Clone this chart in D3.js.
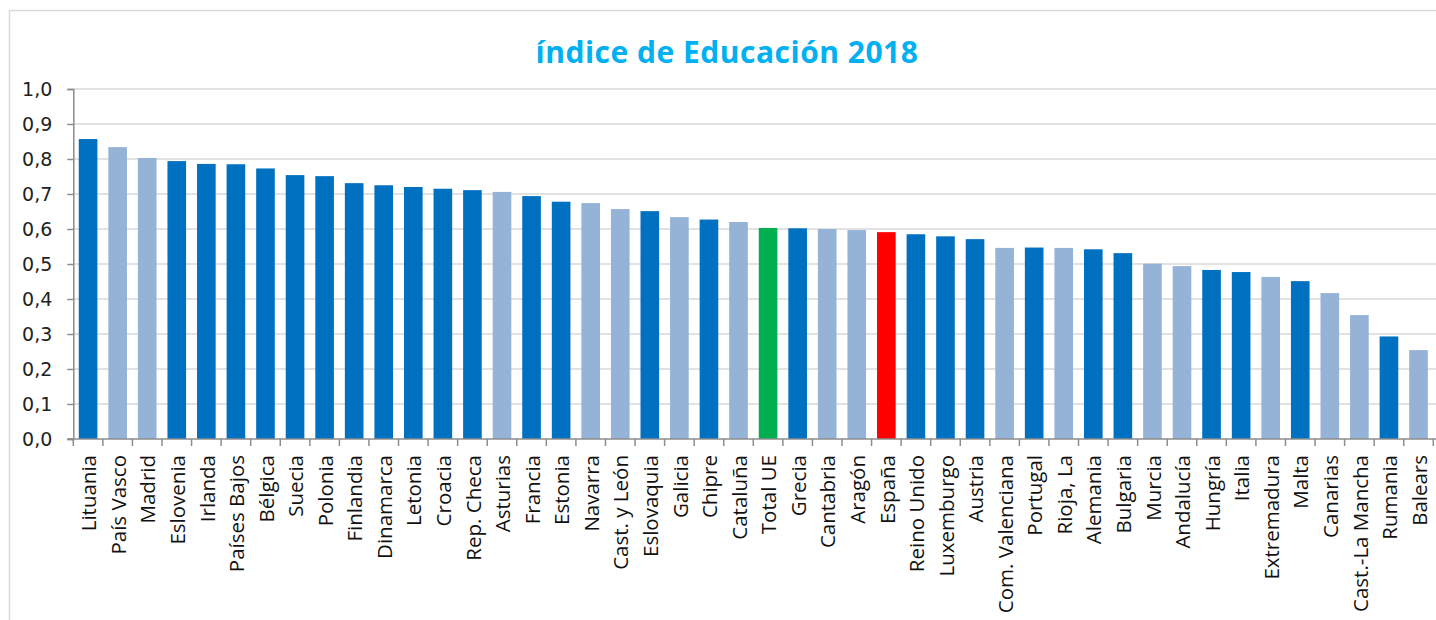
<!DOCTYPE html>
<html>
<head>
<meta charset="utf-8">
<script src="https://cdn.jsdelivr.net/npm/d3@7"></script>
<style>
  body { margin: 0; background: #fff; }
  svg { display: block; }
</style>
</head>
<body>
<div id="chart"></div>
<script>
const categories = [
  "Lituania", "País Vasco", "Madrid", "Eslovenia", "Irlanda", "Países Bajos",
  "Bélgica", "Suecia", "Polonia", "Finlandia", "Dinamarca", "Letonia",
  "Croacia", "Rep. Checa", "Asturias", "Francia", "Estonia", "Navarra",
  "Cast. y León", "Eslovaquia", "Galicia", "Chipre", "Cataluña", "Total UE",
  "Grecia", "Cantabria", "Aragón", "España", "Reino Unido", "Luxemburgo",
  "Austria", "Com. Valenciana", "Portugal", "Rioja, La", "Alemania", "Bulgaria",
  "Murcia", "Andalucía", "Hungría", "Italia", "Extremadura", "Malta",
  "Canarias", "Cast.-La Mancha", "Rumania", "Balears"
];

const values = [
  0.857, 0.834, 0.803, 0.794, 0.786, 0.785,
  0.773, 0.754, 0.751, 0.731, 0.725, 0.720,
  0.715, 0.711, 0.706, 0.694, 0.678, 0.674,
  0.657, 0.651, 0.634, 0.627, 0.620, 0.603,
  0.602, 0.600, 0.597, 0.591, 0.585, 0.579,
  0.571, 0.546, 0.547, 0.546, 0.542, 0.531,
  0.501, 0.494, 0.483, 0.477, 0.463, 0.451,
  0.417, 0.354, 0.293, 0.254
];

// p = país, r = región española, ue = Total UE, es = España
const groups = [
  "p", "r", "r", "p", "p", "p",
  "p", "p", "p", "p", "p", "p",
  "p", "p", "r", "p", "p", "r",
  "r", "p", "r", "p", "r", "ue",
  "p", "r", "r", "es", "p", "p",
  "p", "r", "p", "r", "p", "p",
  "r", "r", "p", "p", "r", "p",
  "r", "r", "p", "r"
];

const yTicks = [0, 0.1, 0.2, 0.3, 0.4, 0.5, 0.6, 0.7, 0.8, 0.9, 1.0];

const title = "índice de Educación 2018";

const colors = { p: "#0070C0", r: "#95B3D7", ue: "#00B050", es: "#FF0000" };

const data = categories.map((c, i) => ({ name: c, value: values[i], group: groups[i] }));

const width = 1436;
const height = 620;
const plot = { left: 73.3, right: 1433.3, top: 89, bottom: 439 };

const svg = d3.select("#chart")
  .append("svg")
  .attr("width", width)
  .attr("height", height);

// outer chart frame
svg.append("rect")
  .attr("x", 9.5)
  .attr("y", 10.5)
  .attr("width", width)
  .attr("height", height)
  .attr("fill", "none")
  .attr("stroke", "#d9d9d9")
  .attr("stroke-width", 1.5);

svg.append("text")
  .attr("x", 727)
  .attr("y", 63)
  .attr("text-anchor", "middle")
  .style("font-family", "'Open Sans', Lato, sans-serif")
  .style("font-weight", "bold")
  .style("font-size", "30px")
  .style("letter-spacing", "0.5px")
  .attr("fill", "#00B0F0")
  .text(title);

const x = d3.scaleBand()
  .domain(categories)
  .range([plot.left, plot.right])
  .paddingInner(0.37)
  .paddingOuter(0.185);

const y = d3.scaleLinear()
  .domain([0, 1])
  .range([plot.bottom, plot.top]);

const locale = d3.formatLocale({ decimal: ",", thousands: ".", grouping: [3], currency: ["", "€"] });
const fmt = locale.format(".1f");

// gridlines
svg.append("g")
  .selectAll("line")
  .data(yTicks.filter(d => d > 0))
  .join("line")
  .attr("x1", plot.left)
  .attr("x2", width)
  .attr("y1", d => y(d))
  .attr("y2", d => y(d))
  .attr("stroke", "#d9d9d9")
  .attr("stroke-width", 1.5);

// bars
svg.append("g")
  .selectAll("rect")
  .data(data)
  .join("rect")
  .attr("x", d => x(d.name))
  .attr("y", d => y(d.value))
  .attr("width", x.bandwidth())
  .attr("height", d => y(0) - y(d.value))
  .attr("fill", d => colors[d.group]);

// y axis
const yAxis = svg.append("g")
  .attr("transform", `translate(${plot.left},0)`)
  .call(d3.axisLeft(y).tickValues(yTicks).tickFormat(fmt).tickSize(6).tickPadding(15));
yAxis.select(".domain").attr("stroke", "#8c8c8c").attr("stroke-width", 1.5);
yAxis.selectAll(".tick line").attr("stroke", "#8c8c8c").attr("stroke-width", 1.5);
yAxis.selectAll("text")
  .style("font-family", "'DejaVu Sans', sans-serif")
  .style("font-size", "19px")
  .attr("fill", "#222");

// x axis line with tick marks on category boundaries
const boundaries = categories.map(c => x(c) - x.step() * x.paddingInner() / 2)
  .concat([plot.right]);

const xAxis = svg.append("g");
xAxis.append("line")
  .attr("x1", plot.left - 6)
  .attr("x2", width)
  .attr("y1", y(0))
  .attr("y2", y(0))
  .attr("stroke", "#8c8c8c")
  .attr("stroke-width", 1.5);
xAxis.selectAll(".btick")
  .data(boundaries)
  .join("line")
  .attr("class", "btick")
  .attr("x1", d => d)
  .attr("x2", d => d)
  .attr("y1", y(0))
  .attr("y2", y(0) + 7)
  .attr("stroke", "#8c8c8c")
  .attr("stroke-width", 1.5);

// rotated category labels
xAxis.selectAll(".xlabel")
  .data(categories)
  .join("text")
  .attr("class", "xlabel")
  .attr("transform", d => `translate(${x(d) + x.bandwidth() / 2 + 1},${y(0) + 16}) rotate(-90)`)
  .attr("dy", "0.35em")
  .attr("text-anchor", "end")
  .style("font-family", "'Open Sans', sans-serif")
  .style("font-size", "20.5px")
  .attr("fill", "#111")
  .text(d => d);
</script>
</body>
</html>
